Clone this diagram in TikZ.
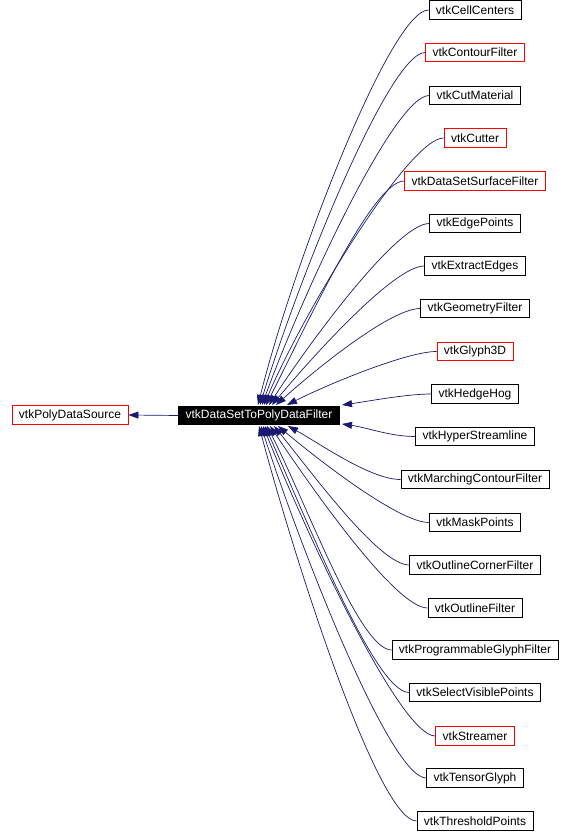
\documentclass[tikz,border=0pt]{standalone}
\usepackage{fontspec}
\setmainfont{Liberation Sans}
\usetikzlibrary{arrows.meta}
\definecolor{edgec}{HTML}{191970}
\begin{document}
\begin{tikzpicture}[x=1pt,y=1pt,
  box/.style={draw=black,line width=0.8pt,font=\fontsize{12}{14}\selectfont,inner xsep=7pt,inner ysep=0pt,minimum height=18.5pt},
  redbox/.style={box,draw=red},
  edge/.style={draw=edgec,line width=0.7pt,-{Triangle[length=10pt,width=7pt]}}]
\useasboundingbox (0,0) rectangle (573,832);
\node[box,fill=black,text=white] (main) at (259,416.5) {vtkDataSetToPolyDataFilter};
\node[redbox] (src) at (70,417) {vtkPolyDataSource};
\draw[edge] (main.west) -- (src.east);

\node[box]    (n1)  at (475,822)   {vtkCellCenters};
\node[redbox] (n2)  at (475,779.5) {vtkContourFilter};
\node[box]    (n3)  at (475,736.5) {vtkCutMaterial};
\node[redbox] (n4)  at (475,694)   {vtkCutter};
\node[redbox] (n5)  at (475,651)   {vtkDataSetSurfaceFilter};
\node[box]    (n6)  at (475,608.5) {vtkEdgePoints};
\node[box]    (n7)  at (475,566)   {vtkExtractEdges};
\node[box]    (n8)  at (475,523.5) {vtkGeometryFilter};
\node[redbox] (n9)  at (475,480.5) {vtkGlyph3D};
\node[box]    (n10) at (475,438)   {vtkHedgeHog};
\node[box]    (n11) at (475,395.5) {vtkHyperStreamline};
\node[box]    (n12) at (475,352.5) {vtkMarchingContourFilter};
\node[box]    (n13) at (475,309.5) {vtkMaskPoints};
\node[box]    (n14) at (475,267)   {vtkOutlineCornerFilter};
\node[box]    (n15) at (475,224)   {vtkOutlineFilter};
\node[box]    (n16) at (475,182)   {vtkProgrammableGlyphFilter};
\node[box]    (n17) at (475,139.5) {vtkSelectVisiblePoints};
\node[redbox] (n18) at (475,96)    {vtkStreamer};
\node[box]    (n19) at (475,54)    {vtkTensorGlyph};
\node[box]    (n20) at (475,11)    {vtkThresholdPoints};

\coordinate (t1)  at (258,427);
\coordinate (t2)  at (260,427);
\coordinate (t3)  at (262,427);
\coordinate (t4)  at (264,427);
\coordinate (t5)  at (266,427);
\coordinate (t6)  at (269,427);
\coordinate (t7)  at (272,427);
\coordinate (t8)  at (276,427);
\coordinate (t9)  at (287,427);
\coordinate (t10) at (342,427);
\coordinate (t11) at (342,408);
\coordinate (t12) at (288,406);
\coordinate (t13) at (278,406);
\coordinate (t14) at (274,406);
\coordinate (t15) at (270,406);
\coordinate (t16) at (267,406);
\coordinate (t17) at (265,406);
\coordinate (t18) at (263,406);
\coordinate (t19) at (261,406);
\coordinate (t20) at (259,406);

\draw[edge] (n1.west)  to[out=180,in=76,out distance=38,in distance=146] (t1);
\draw[edge] (n2.west)  to[out=180,in=73,out distance=36,in distance=132] (t2);
\draw[edge] (n3.west)  to[out=180,in=70,out distance=35,in distance=118] (t3);
\draw[edge] (n4.west)  to[out=180,in=67,out distance=34,in distance=104] (t4);
\draw[edge] (n5.west)  to[out=180,in=63,out distance=32,in distance=89] (t5);
\draw[edge] (n6.west)  to[out=180,in=57,out distance=32,in distance=77] (t6);
\draw[edge] (n7.west)  to[out=180,in=50,out distance=30,in distance=65] (t7);
\draw[edge] (n8.west)  to[out=180,in=42,out distance=30,in distance=52] (t8);
\draw[edge] (n9.west)  to[out=180,in=27,out distance=30,in distance=44] (t9);
\draw[edge] (n10.west) to[out=180,in=8,out distance=25,in distance=25] (t10);
\draw[edge] (n11.west) to[out=180,in=-8,out distance=25,in distance=25] (t11);
\draw[edge] (n12.west) to[out=180,in=-29,out distance=30,in distance=38] (t12);
\draw[edge] (n13.west) to[out=180,in=-40,out distance=30,in distance=53] (t13);
\draw[edge] (n14.west) to[out=180,in=-51,out distance=30,in distance=62] (t14);
\draw[edge] (n15.west) to[out=180,in=-56,out distance=32,in distance=77] (t15);
\draw[edge] (n16.west) to[out=180,in=-63,out distance=32,in distance=88] (t16);
\draw[edge] (n17.west) to[out=180,in=-66,out distance=34,in distance=102] (t17);
\draw[edge] (n18.west) to[out=180,in=-68,out distance=35,in distance=119] (t18);
\draw[edge] (n19.west) to[out=180,in=-72,out distance=36,in distance=132] (t19);
\draw[edge] (n20.west) to[out=180,in=-75,out distance=38,in distance=146] (t20);
\end{tikzpicture}
\end{document}
